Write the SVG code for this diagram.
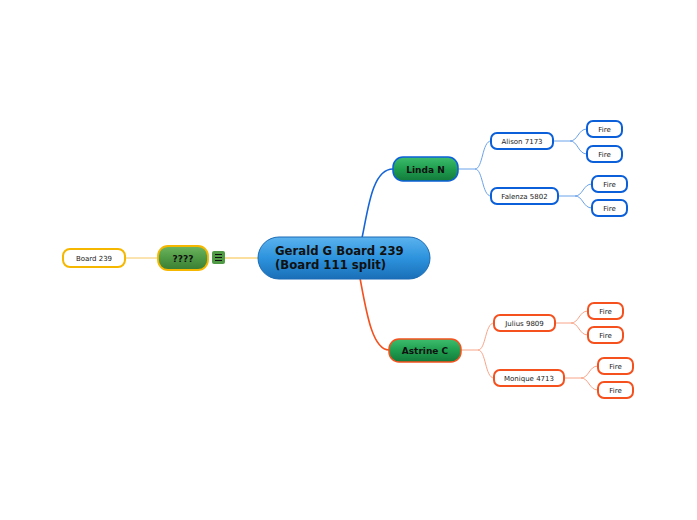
<svg xmlns="http://www.w3.org/2000/svg" width="697" height="520" viewBox="0 0 697 520">
<defs>
<linearGradient id="gBlue" x1="0" y1="0" x2="0" y2="1"><stop offset="0" stop-color="#5bb2ee"/><stop offset="0.5" stop-color="#2d93dd"/><stop offset="1" stop-color="#1a6fb8"/></linearGradient>
<linearGradient id="gGreen" x1="0" y1="0" x2="0" y2="1"><stop offset="0" stop-color="#3fbd6e"/><stop offset="0.5" stop-color="#1f9e4f"/><stop offset="1" stop-color="#137a3a"/></linearGradient>
<linearGradient id="gOlive" x1="0" y1="0" x2="0" y2="1"><stop offset="0" stop-color="#6fb55f"/><stop offset="0.5" stop-color="#4f9a45"/><stop offset="1" stop-color="#3a7d33"/></linearGradient>
</defs>
<style>
text{font-family:"DejaVu Sans",Verdana,sans-serif;fill:#222}
.b{font-weight:bold;fill:#111}
.leaf{fill:#fff;stroke-width:2}
.blue{stroke:#0b5fd8}
.red{stroke:#f4511e}
.yel{stroke:#f6b700}
.c{fill:none}
.s{font-size:7px}
</style>
<rect width="697" height="520" fill="#fff"/>
<g id="connectors">
<path class="c" d="M362,238 C368,210 372,169 393,169" stroke="#1565d8" stroke-width="1.6"/>
<path class="c" d="M360,278 C366,310 372,350 389,350" stroke="#f4511e" stroke-width="1.6"/>
<path class="c" d="M258,258 L225,258" stroke="#f6c040" stroke-width="1.2"/>
<path class="c" d="M158,258 L125,258" stroke="#f6c860" stroke-width="1"/>
<g stroke="#5a97e6" stroke-width="0.9" fill="none">
<path d="M458,169 L475,169 C483,169 482,141 491,141"/>
<path d="M475,169 C483,169 482,196 491,196"/>
<path d="M553,141 L570,141 C578,141 578,129 587,129"/>
<path d="M570,141 C578,141 578,154 587,154"/>
<path d="M558,196 L575,196 C583,196 583,184 592,184"/>
<path d="M575,196 C583,196 583,208 592,208"/>
</g>
<g stroke="#f79a7a" stroke-width="0.9" fill="none">
<path d="M461,350 L478,350 C486,350 485,323 494,323"/>
<path d="M478,350 C486,350 485,378 494,378"/>
<path d="M555,323 L571,323 C579,323 579,311 588,311"/>
<path d="M571,323 C579,323 579,335 588,335"/>
<path d="M564,378 L581,378 C589,378 589,366 598,366"/>
<path d="M581,378 C589,378 589,390 598,390"/>
</g>
</g>
<g id="central">
<rect x="258" y="237" width="172" height="42" rx="21" fill="url(#gBlue)" stroke="#1a6bb5" stroke-width="1"/>
<text class="b" x="275" y="255" font-size="11.7">Gerald G Board 239</text>
<text class="b" x="275" y="269" font-size="11.7">(Board 111 split)</text>
</g>
<g id="unknown">
<rect x="158" y="246" width="50" height="24" rx="10" fill="url(#gOlive)" stroke="#f6b700" stroke-width="1.8"/>
<text class="b" x="183" y="261.5" font-size="9" text-anchor="middle">????</text>
<rect x="212" y="251" width="13" height="13" rx="2" fill="#4f9a45"/>
<path d="M215,254.5h7M215,257.5h7M215,260.5h7" stroke="#111" stroke-width="1"/>
</g>
<g id="board239">
<rect class="leaf yel" x="63" y="249" width="62" height="18" rx="7"/>
<text class="s" x="94" y="261" text-anchor="middle">Board 239</text>
</g>
<g id="linda">
<rect x="393" y="157" width="65" height="24" rx="10" fill="url(#gGreen)" stroke="#0b5fd8" stroke-width="1.5"/>
<text class="b" x="425.5" y="172.5" font-size="9" text-anchor="middle">Linda N</text>
</g>
<g id="astrine">
<rect x="389" y="339" width="72" height="23" rx="10" fill="url(#gGreen)" stroke="#f4511e" stroke-width="1.5"/>
<text class="b" x="425" y="354" font-size="9" text-anchor="middle">Astrine C</text>
</g>
<g id="alison"><rect class="leaf blue" x="491" y="133" width="62" height="16" rx="6"/><text class="s" x="522" y="144" text-anchor="middle">Alison 7173</text></g>
<g id="fire1"><rect class="leaf blue" x="587" y="121" width="35" height="16" rx="6"/><text class="s" x="604.5" y="132" text-anchor="middle">Fire</text></g>
<g id="fire2"><rect class="leaf blue" x="587" y="146" width="35" height="16" rx="6"/><text class="s" x="604.5" y="157" text-anchor="middle">Fire</text></g>
<g id="falenza"><rect class="leaf blue" x="491" y="188" width="67" height="16" rx="6"/><text class="s" x="524.5" y="199" text-anchor="middle">Falenza 5802</text></g>
<g id="fire3"><rect class="leaf blue" x="592" y="176" width="35" height="16" rx="6"/><text class="s" x="609.5" y="187" text-anchor="middle">Fire</text></g>
<g id="fire4"><rect class="leaf blue" x="592" y="200" width="35" height="16" rx="6"/><text class="s" x="609.5" y="211" text-anchor="middle">Fire</text></g>
<g id="julius"><rect class="leaf red" x="494" y="315" width="61" height="16" rx="6"/><text class="s" x="524.5" y="326" text-anchor="middle">Julius 9809</text></g>
<g id="fire5"><rect class="leaf red" x="588" y="303" width="35" height="16" rx="6"/><text class="s" x="605.5" y="314" text-anchor="middle">Fire</text></g>
<g id="fire6"><rect class="leaf red" x="588" y="327" width="35" height="16" rx="6"/><text class="s" x="605.5" y="338" text-anchor="middle">Fire</text></g>
<g id="monique"><rect class="leaf red" x="494" y="370" width="70" height="16" rx="6"/><text class="s" x="529" y="381" text-anchor="middle">Monique 4713</text></g>
<g id="fire7"><rect class="leaf red" x="598" y="358" width="35" height="16" rx="6"/><text class="s" x="615.5" y="369" text-anchor="middle">Fire</text></g>
<g id="fire8"><rect class="leaf red" x="598" y="382" width="35" height="16" rx="6"/><text class="s" x="615.5" y="393" text-anchor="middle">Fire</text></g>
</svg>
